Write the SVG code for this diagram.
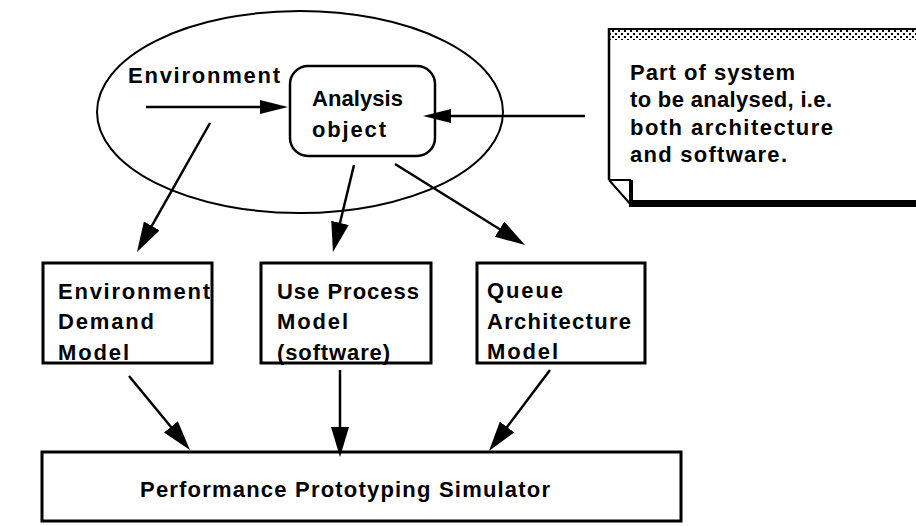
<svg xmlns="http://www.w3.org/2000/svg" width="916" height="526" viewBox="0 0 916 526">
<defs>
<style>
.t{font-family:"Liberation Sans",Arial,sans-serif;font-weight:bold;font-size:22px;fill:#000}
.box{fill:#fff;stroke:#000;stroke-width:3}
.ln{fill:none;stroke:#000;stroke-width:2.5}
</style>
<marker id="ah" viewBox="0 0 30 18" markerWidth="30" markerHeight="18" refX="20" refY="9" orient="auto" markerUnits="userSpaceOnUse">
<path d="M0,0 L30,9 L0,18 z" fill="#000"/>
</marker>
<marker id="ahs" viewBox="0 0 28 14" markerWidth="28" markerHeight="14" refX="18" refY="7" orient="auto" markerUnits="userSpaceOnUse">
<path d="M0,0 L28,7 L0,14 z" fill="#000"/>
</marker>
<pattern id="dots" width="6" height="6" patternUnits="userSpaceOnUse">
<rect width="6" height="6" fill="#fff"/>
<rect x="0" y="0" width="2" height="2" fill="#000"/>
<rect x="3" y="3" width="2" height="2" fill="#000"/>
</pattern>
</defs>
<rect width="916" height="526" fill="#fff"/>

<g id="environment">
<ellipse cx="300" cy="112" rx="203" ry="101" fill="none" stroke="#000" stroke-width="2"/>
<text class="t" x="128" y="83" textLength="152" lengthAdjust="spacing">Environment</text>
</g>

<g id="analysis-object">
<rect x="290" y="66" width="145" height="90" rx="18" ry="18" fill="#fff" stroke="#000" stroke-width="2.5"/>
<text class="t" x="312" y="106" textLength="91" lengthAdjust="spacing">Analysis</text>
<text class="t" x="312" y="137" textLength="74" lengthAdjust="spacing">object</text>
</g>

<g id="note">
<rect x="609" y="29" width="307" height="11" fill="url(#dots)"/>
<path d="M609,29 H916" stroke="#000" stroke-width="2" fill="none"/>
<path d="M609,28 V180" stroke="#000" stroke-width="2.5" fill="none"/>
<path d="M609,180 H631 M609,180 L632,206" stroke="#000" stroke-width="2" fill="none"/>
<path d="M631,180 V207" stroke="#000" stroke-width="4" fill="none"/>
<rect x="629" y="200" width="287" height="7" fill="#000"/>
<text class="t" x="630" y="80" textLength="165" lengthAdjust="spacing">Part of system</text>
<text class="t" x="630" y="107" textLength="202" lengthAdjust="spacing">to be analysed, i.e.</text>
<text class="t" x="630" y="135" textLength="203" lengthAdjust="spacing">both architecture</text>
<text class="t" x="630" y="162" textLength="157" lengthAdjust="spacing">and software.</text>
</g>

<g id="env-demand-model">
<rect class="box" x="43" y="263" width="169" height="100"/>
<text class="t" x="58" y="299" textLength="152" lengthAdjust="spacing">Environment</text>
<text class="t" x="58" y="329" textLength="96" lengthAdjust="spacing">Demand</text>
<text class="t" x="58" y="360" textLength="71" lengthAdjust="spacing">Model</text>
</g>

<g id="use-process-model">
<rect class="box" x="261" y="263" width="170" height="100"/>
<text class="t" x="277" y="299" textLength="142" lengthAdjust="spacing">Use Process</text>
<text class="t" x="277" y="329" textLength="71" lengthAdjust="spacing">Model</text>
<text class="t" x="277" y="360" textLength="113" lengthAdjust="spacing">(software)</text>
</g>

<g id="queue-architecture-model">
<rect class="box" x="477" y="263" width="168" height="100"/>
<text class="t" x="487" y="298" textLength="76" lengthAdjust="spacing">Queue</text>
<text class="t" x="487" y="329" textLength="144" lengthAdjust="spacing">Architecture</text>
<text class="t" x="487" y="359" textLength="71" lengthAdjust="spacing">Model</text>
</g>

<g id="simulator">
<rect class="box" x="42" y="452" width="639" height="69"/>
<text class="t" x="140" y="497" textLength="410" lengthAdjust="spacing">Performance Prototyping Simulator</text>
</g>

<g id="connectors">
<line class="ln" x1="146" y1="107" x2="278" y2="107" marker-end="url(#ahs)"/>
<line class="ln" x1="585" y1="116" x2="433" y2="116" marker-end="url(#ahs)"/>
<line class="ln" x1="210" y1="123" x2="141.9" y2="243.3" marker-end="url(#ah)"/>
<line class="ln" x1="354" y1="165" x2="335.3" y2="242.3" marker-end="url(#ah)"/>
<line class="ln" x1="395" y1="164" x2="516.5" y2="239.7" marker-end="url(#ah)"/>
<line class="ln" x1="129" y1="376" x2="183.6" y2="442.3" marker-end="url(#ah)"/>
<line class="ln" x1="340" y1="370" x2="340" y2="447" marker-end="url(#ah)"/>
<line class="ln" x1="550" y1="370" x2="495" y2="443" marker-end="url(#ah)"/>
</g>
</svg>
